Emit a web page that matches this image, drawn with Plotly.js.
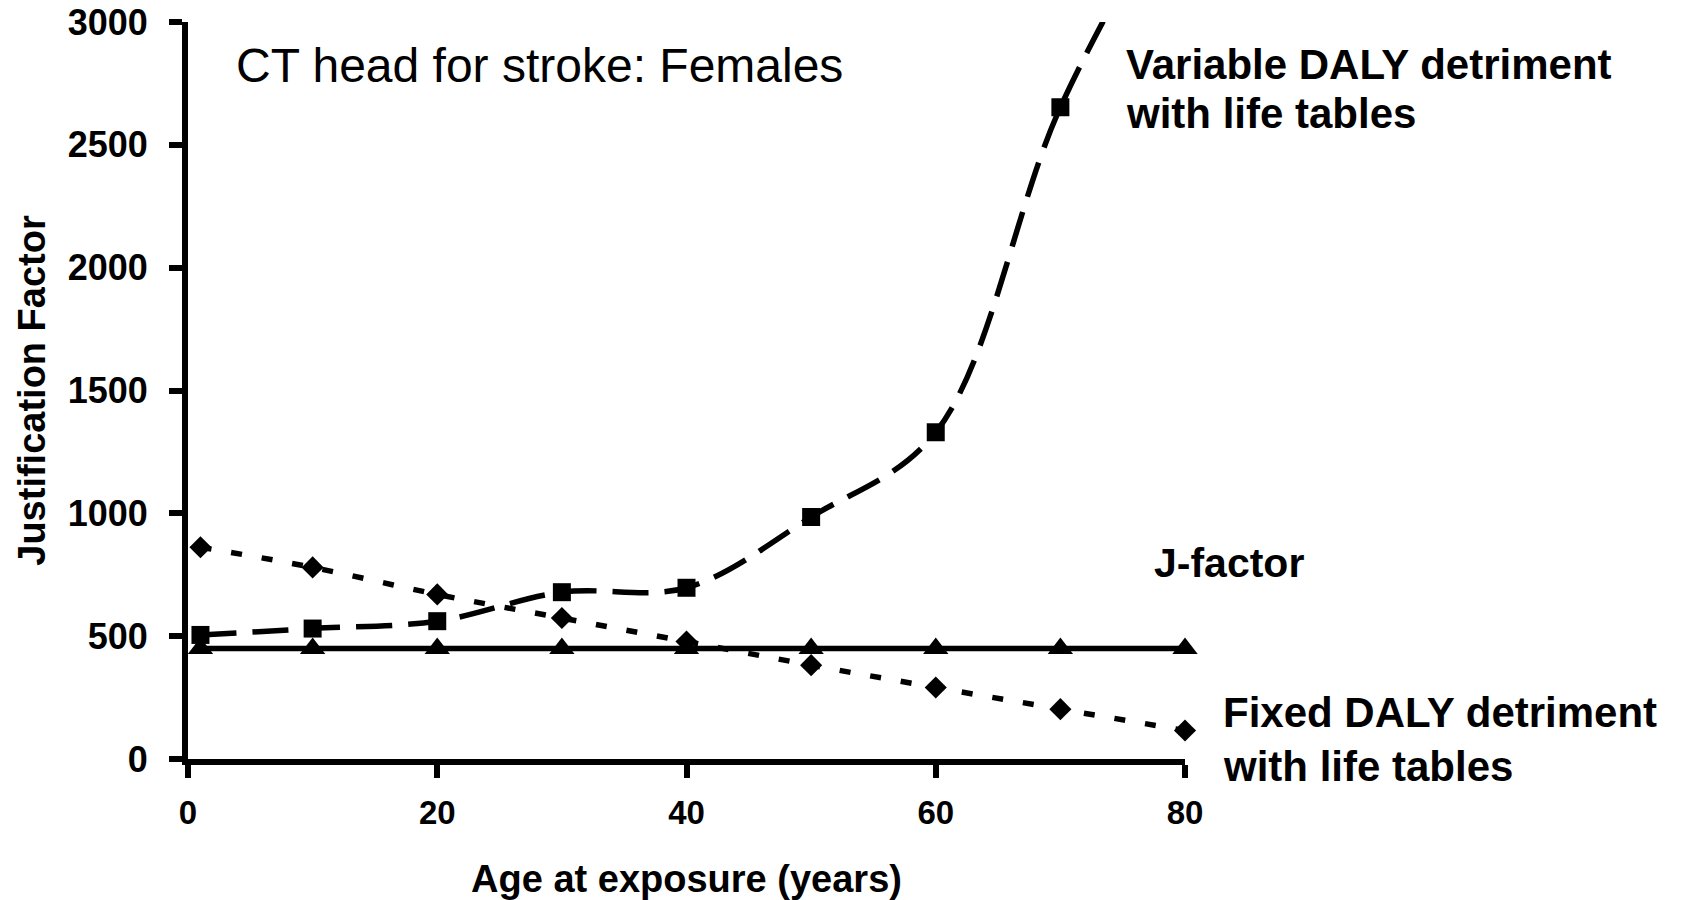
<!DOCTYPE html>
<html>
<head>
<meta charset="utf-8">
<script src="https://cdn.plot.ly/plotly-3.0.1.min.js"></script>
<style>
  html, body { margin: 0; padding: 0; background: #ffffff; }
  #chart { width: 1682px; height: 900px; }
</style>
</head>
<body>
<div id="chart"></div>
<script>
// ---- data ----
const ages = [1, 10, 20, 30, 40, 50, 60, 70, 80];
const variableDaly = [505, 531, 561, 679, 697, 985, 1330, 2653, 3600];
const fixedDaly = [862, 780, 670, 574, 478, 382, 291, 203, 116];
const jFactor = [450, 450, 450, 450, 450, 450, 450, 450, 450];

const yTicks = [0, 500, 1000, 1500, 2000, 2500, 3000];
const xTicks = [0, 20, 40, 60, 80];

const titleText = 'CT head for stroke: Females';
const xTitle = 'Age at exposure (years)';
const yTitle = 'Justification Factor';
const labelVariable = ['Variable DALY detriment', 'with life tables'];
const labelFixed = ['Fixed DALY detriment', 'with life tables'];
const labelJ = 'J-factor';

// ---- layout geometry ----
const W = 1682, H = 900;
const M = { l: 188, r: 497, t: 22, b: 141 };
const PW = W - M.l - M.r, PH = H - M.t - M.b;
const px2x = px => (px - M.l) / PW;
const py2y = py => (H - M.b - py) / PH;

const FONT = '"Liberation Sans", Arial, Helvetica, sans-serif';

const traces = [
  {
    x: ages, y: variableDaly, type: 'scatter', mode: 'lines+markers',
    name: 'Variable DALY detriment with life tables',
    line: { color: '#000', width: 5.5, dash: '36px,16px', shape: 'spline', smoothing: 1 },
    marker: { symbol: 'square', size: 18, color: '#000' },
    cliponaxis: true
  },
  {
    x: ages, y: fixedDaly, type: 'scatter', mode: 'lines+markers',
    name: 'Fixed DALY detriment with life tables',
    line: { color: '#000', width: 5.5, dash: '11px,20px', shape: 'spline', smoothing: 1 },
    marker: { symbol: 'diamond', size: 17, color: '#000' },
    cliponaxis: false
  },
  {
    x: ages, y: jFactor, type: 'scatter', mode: 'lines+markers',
    name: 'J-factor',
    line: { color: '#000', width: 5.5 },
    marker: { symbol: 'triangle-up', size: 22, color: '#000' },
    cliponaxis: false
  }
];

function ann(text, px, py, size, bold) {
  return {
    text: bold ? '<b>' + text + '</b>' : text,
    xref: 'paper', yref: 'paper',
    x: px2x(px), y: py2y(py),
    xanchor: 'left', yanchor: 'middle',
    showarrow: false,
    font: { family: FONT, size: size, color: '#000' }
  };
}

const layout = {
  width: W, height: H,
  margin: M,
  paper_bgcolor: '#fff', plot_bgcolor: '#fff',
  showlegend: false,
  font: { family: FONT, color: '#000' },
  xaxis: {
    range: [0, 80], tickvals: xTicks, ticktext: xTicks.map(String),
    showgrid: false, zeroline: false,
    showline: true, linecolor: '#000', linewidth: 6,
    ticks: 'outside', ticklen: 13, tickwidth: 6, tickcolor: '#000',
    tickfont: { family: FONT, size: 33, color: '#000', weight: 'bold' },
    ticklabelstandoff: 6,
    title: { text: '<b>' + xTitle + '</b>', font: { family: FONT, size: 38, color: '#000' }, standoff: 42 },
    automargin: false, fixedrange: true
  },
  yaxis: {
    range: [0, 3000], tickvals: yTicks, ticktext: yTicks.map(String),
    showgrid: false, zeroline: false,
    showline: true, linecolor: '#000', linewidth: 6,
    ticks: 'outside', ticklen: 13, tickwidth: 6, tickcolor: '#000',
    tickfont: { family: FONT, size: 36, color: '#000', weight: 'bold' },
    ticklabelstandoff: 14,
    title: { text: '<b>' + yTitle + '</b>', font: { family: FONT, size: 38, color: '#000' }, standoff: 12 },
    automargin: false, fixedrange: true
  },
  annotations: [
    ann(titleText, 234, 66, 48, false),
    ann(labelVariable[0], 1124, 65, 42, true),
    ann(labelVariable[1], 1124, 113, 42, true),
    ann(labelJ, 1152, 563, 41, true),
    ann(labelFixed[0], 1221, 712, 42, true),
    ann(labelFixed[1], 1221, 766, 42, true)
  ]
};

Plotly.newPlot('chart', traces, layout, { staticPlot: true, displayModeBar: false });
</script>
</body>
</html>
